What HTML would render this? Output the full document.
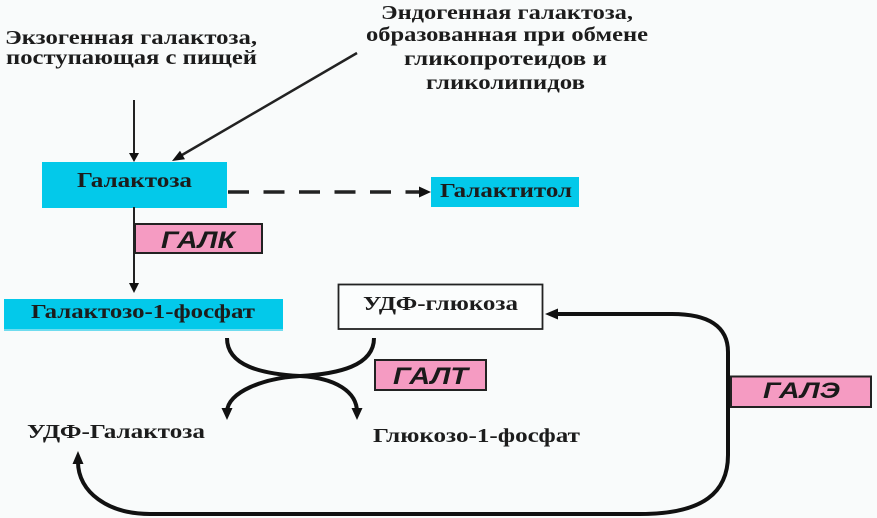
<!DOCTYPE html>
<html>
<head>
<meta charset="utf-8">
<style>
  html, body { margin: 0; padding: 0; background: #f9fbfb; }
  body { width: 877px; height: 518px; overflow: hidden; }
  svg { display: block; }
  .t { font-family: "Liberation Serif", "Noto Serif CJK SC", serif; font-weight: bold; fill: #1c1c1c; }
  .e { font-family: "Liberation Sans", "Noto Sans CJK SC", sans-serif; font-weight: bold; font-style: italic; fill: #1a1a1a; }
</style>
</head>
<body>
<svg width="877" height="518" viewBox="0 0 877 518" xmlns="http://www.w3.org/2000/svg">
  <rect x="0" y="0" width="877" height="518" fill="#f9fbfb"/>

  <!-- top left text -->
  <text class="t" x="5" y="44" font-size="20" textLength="252" lengthAdjust="spacingAndGlyphs">Экзогенная галактоза,</text>
  <text class="t" x="6" y="64" font-size="20" textLength="251" lengthAdjust="spacingAndGlyphs">поступающая с пищей</text>

  <!-- top right text -->
  <text class="t" x="381" y="19" font-size="20" textLength="252" lengthAdjust="spacingAndGlyphs">Эндогенная галактоза,</text>
  <text class="t" x="366" y="41" font-size="20" textLength="282" lengthAdjust="spacingAndGlyphs">образованная при обмене</text>
  <text class="t" x="404" y="65" font-size="20" textLength="203" lengthAdjust="spacingAndGlyphs">гликопротеидов и</text>
  <text class="t" x="426" y="89" font-size="20" textLength="159" lengthAdjust="spacingAndGlyphs">гликолипидов</text>

  <!-- vertical arrow into Галактоза -->
  <line x1="134" y1="100" x2="134" y2="154" stroke="#222" stroke-width="2"/>
  <polygon points="129,153 139,153 134,162" fill="#111"/>

  <!-- diagonal arrow -->
  <line x1="357" y1="53" x2="182" y2="155" stroke="#222" stroke-width="2.5"/>
  <polygon points="172,161 185,159.3 180,150.7" fill="#111"/>

  <!-- Галактоза box -->
  <rect x="42" y="162" width="185" height="46" fill="#03c9ea"/>
  <text class="t" x="77" y="187" font-size="21" textLength="115" lengthAdjust="spacingAndGlyphs">Галактоза</text>

  <!-- dashed arrow -->
  <line x1="228" y1="192" x2="424" y2="192" stroke="#222" stroke-width="3.5" stroke-dasharray="21 14.5"/>
  <polygon points="419,186.5 419,197.5 431,192" fill="#111"/>

  <!-- Галактитол box -->
  <rect x="431" y="177" width="148" height="30" fill="#03c9ea"/>
  <text class="t" x="440" y="197" font-size="20" textLength="132" lengthAdjust="spacingAndGlyphs">Галактитол</text>

  <!-- vertical line to Гал-1-Ф -->
  <line x1="134" y1="207" x2="134" y2="284" stroke="#222" stroke-width="2"/>
  <polygon points="129,283 139,283 134,293" fill="#111"/>

  <!-- ГАЛК -->
  <rect x="135" y="224" width="127" height="29" fill="#f59bc2" stroke="#222" stroke-width="2"/>
  <text class="e" x="161" y="248" font-size="24" textLength="74" lengthAdjust="spacingAndGlyphs">ГАЛК</text>

  <!-- Галактозо-1-фосфат -->
  <rect x="4" y="299" width="279" height="32" fill="#03c9ea"/>
  <rect x="4" y="329" width="279" height="2" fill="#6fdcef"/>
  <text class="t" x="31" y="318" font-size="20" textLength="224" lengthAdjust="spacingAndGlyphs">Галактозо-1-фосфат</text>

  <!-- УДФ-глюкоза -->
  <rect x="338.5" y="284.5" width="204" height="44.5" fill="#fbfdfd" stroke="#222" stroke-width="1.8"/>
  <text class="t" x="363" y="310" font-size="20" textLength="155" lengthAdjust="spacingAndGlyphs">УДФ-глюкоза</text>

  <!-- crossing curves -->
  <path d="M227,338 C227,366 262,374 300,376 C336,378 357,392 357,412" fill="none" stroke="#111" stroke-width="4"/>
  <path d="M374,338 C374,366 338,374 300,376 C264,378 227,392 227,412" fill="none" stroke="#111" stroke-width="4"/>
  <polygon points="351.5,408 362.5,408 357,420" fill="#111"/>
  <polygon points="221.5,408 232.5,408 227,420" fill="#111"/>

  <!-- ГАЛТ -->
  <rect x="375" y="360" width="111" height="30" fill="#f59bc2" stroke="#222" stroke-width="2"/>
  <text class="e" x="393" y="384" font-size="24" textLength="75" lengthAdjust="spacingAndGlyphs">ГАЛТ</text>

  <!-- products -->
  <text class="t" x="27" y="438" font-size="20" textLength="178" lengthAdjust="spacingAndGlyphs">УДФ-Галактоза</text>
  <text class="t" x="373" y="442" font-size="20" textLength="207" lengthAdjust="spacingAndGlyphs">Глюкозо-1-фосфат</text>

  <!-- ГАЛЭ loop -->
  <path d="M555,314 H672 C708,314 728,326 728,352 V455 C728,492 704,514 640,514 H150 C108,514 78,492 78,462" fill="none" stroke="#111" stroke-width="4"/>
  <polygon points="545,314 558,308.5 558,319.5" fill="#111"/>
  <polygon points="72.5,464 83.5,464 78,451" fill="#111"/>

  <!-- ГАЛЭ box -->
  <rect x="731" y="376.5" width="140" height="30.5" fill="#f59bc2" stroke="#222" stroke-width="2"/>
  <text class="e" x="763" y="398" font-size="22" textLength="77" lengthAdjust="spacingAndGlyphs">ГАЛЭ</text>
</svg>
</body>
</html>
